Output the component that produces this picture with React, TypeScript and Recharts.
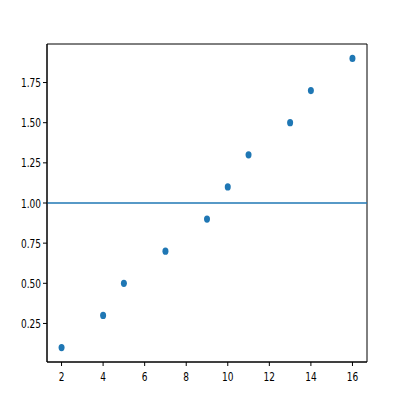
import React from "react";
import {
  ScatterChart,
  Scatter,
  XAxis,
  YAxis,
  ReferenceLine,
  ReferenceArea,
} from "recharts";

const xValues = [2, 4, 5, 7, 9, 10, 11, 13, 14, 16];
const yValues = [0.1, 0.3, 0.5, 0.7, 0.9, 1.1, 1.3, 1.5, 1.7, 1.9];
const xTicks = [2, 4, 6, 8, 10, 12, 14, 16];
const yTicks = [0.25, 0.5, 0.75, 1.0, 1.25, 1.5, 1.75];
const hLineValue = 1.0;
const xDomain = [1.3, 16.7];
const yDomain = [0.01, 1.99];

const data = xValues.map((x, i) => ({ x, y: yValues[i] }));

const BLUE = "#1f77b4";
const FONT = "DejaVu Sans";

const XTick = (props: any) => {
  const { x, y, payload } = props;
  return (
    <text
      transform={`translate(${x},${y + 8}) scale(0.75,1)`}
      textAnchor="middle"
      dominantBaseline="central"
      fontFamily={FONT}
      fontSize={12}
      fill="#000"
    >
      {String(payload.value)}
    </text>
  );
};

const YTick = (props: any) => {
  const { x, y, payload } = props;
  return (
    <text
      transform={`translate(${x},${y}) scale(0.75,1)`}
      textAnchor="end"
      dominantBaseline="central"
      fontFamily={FONT}
      fontSize={12}
      fill="#000"
    >
      {Number(payload.value).toFixed(2)}
    </text>
  );
};

const Dot = (props: any) => {
  const { cx, cy } = props;
  return <ellipse cx={cx} cy={cy} rx={3} ry={3.6} fill={BLUE} />;
};

export default function App() {
  return (
    <div style={{ position: "absolute", left: 0, top: 0, background: "#fff" }}>
      <ScatterChart
        width={400}
        height={400}
        margin={{ top: 44, right: 33, bottom: 0, left: 0 }}
      >
        <XAxis
          type="number"
          dataKey="x"
          domain={xDomain}
          allowDataOverflow
          ticks={xTicks}
          interval={0}
          height={38}
          tickSize={4}
          tickMargin={2}
          tick={<XTick />}
          tickLine={{ stroke: "#000" }}
          axisLine={{ stroke: "#000", strokeWidth: 1 }}
        />
        <YAxis
          type="number"
          dataKey="y"
          domain={yDomain}
          allowDataOverflow
          ticks={yTicks}
          interval={0}
          width={47}
          tickSize={4}
          tickMargin={2}
          tick={<YTick />}
          tickLine={{ stroke: "#000" }}
          axisLine={{ stroke: "#000", strokeWidth: 1 }}
        />
        <ReferenceArea
          x1={xDomain[0]}
          x2={xDomain[1]}
          y1={yDomain[0]}
          y2={yDomain[1]}
          fill="none"
          fillOpacity={0}
          stroke="#000"
          strokeWidth={1}
          ifOverflow="visible"
        />
        <ReferenceLine y={hLineValue} stroke={BLUE} strokeWidth={1.7} />
        <Scatter data={data} shape={<Dot />} isAnimationActive={false} />
      </ScatterChart>
    </div>
  );
}
